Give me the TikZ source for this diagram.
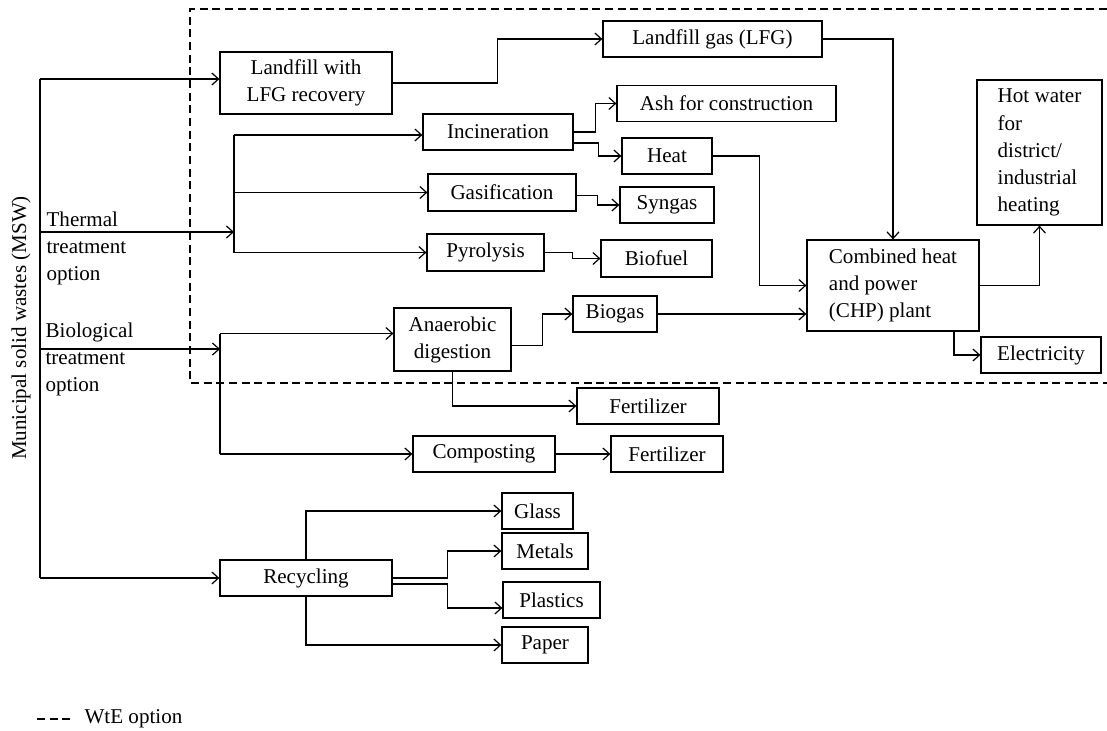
\documentclass[tikz,border=0pt]{standalone}
\usepackage{fontspec}
\setmainfont{Liberation Serif}
\usetikzlibrary{arrows.meta,calc,positioning}
\tikzset{
        block/.style = {draw, rectangle, inner sep=0pt, align=center,
            minimum height=27pt,
            font=\fontsize{15.8}{20.3}\selectfont},
        txt/.style = {inner sep=0pt, align=left,
            font=\fontsize{15.8}{20.3}\selectfont},
        arrow/.style = {draw, -{Straight Barb[length=5pt,width=9pt]}},
        wte/.style = {dash pattern=on 6pt off 3.5pt},
    }

\begin{document}
\begin{tikzpicture}[x=0.75pt,y=0.75pt,yscale=-1,xscale=1,line width=0.9pt]
\useasboundingbox (0,0) rectangle (1107,731);

% WtE region
\draw[wte, line width=0.8pt] (1107,9) -| (190,383) -- (1107,383);

% Boxes
\node[block, minimum width=129pt, minimum height=46.5pt] (landfill) at (306,83) {Landfill with\\LFG recovery};
\node[block, minimum width=164.25pt] (lfg) at (712.5,39) {Landfill gas (LFG)};
\node[block, minimum width=112.5pt] (incin) at (498,132) {Incineration};
\node[block, minimum width=164.25pt] (ash) at (726.5,103.5) {Ash for construction};
\node[block, minimum width=67.5pt] (heat) at (667,156) {Heat};
\node[block, minimum width=111pt, minimum height=27.75pt] (gasif) at (502,192.5) {Gasification};
\node[block, minimum width=70.5pt] (syngas) at (667,205) {Syngas};
\node[block, minimum width=87.75pt, minimum height=27.75pt] (pyro) at (485.5,252.5) {Pyrolysis};
\node[block, minimum width=83.25pt, minimum height=27.75pt] (biofuel) at (656.5,258.5) {Biofuel};
\node[block, minimum width=87.75pt, minimum height=47.25pt] (anaer) at (452.5,339.5) {Anaerobic\\digestion};
\node[block, minimum width=63pt] (biogas) at (615,314) {Biogas};
\node[block, minimum width=129pt, minimum height=68.25pt, align=left] (chp) at (893,285.5) {Combined heat\\and power\\(CHP) plant};
\node[block, minimum width=93.75pt, minimum height=108.75pt, align=left] (hotwater) at (1039.5,152.5) {Hot water\\for\\district/\\industrial\\heating};
\node[block, minimum width=90pt] (elec) at (1041,355) {Electricity};
\node[block, minimum width=106.5pt] (fert1) at (648,406) {Fertilizer};
\node[block, minimum width=106.5pt] (compost) at (484,454) {Composting};
\node[block, minimum width=84pt] (fert2) at (667,454) {Fertilizer};
\node[block, minimum width=129pt] (recyc) at (306,578) {Recycling};
\node[block, minimum width=53.25pt] (glass) at (537.5,511) {Glass};
\node[block, minimum width=64.5pt] (metals) at (545,551) {Metals};
\node[block, minimum width=72.75pt] (plastics) at (551.5,600) {Plastics};
\node[block, minimum width=64.5pt] (paper) at (545,645) {Paper};

% Labels
\node[txt, rotate=90] (msw) at (21,328) {Municipal solid wastes (MSW)};
\node[txt, anchor=north west] (thermtxt) at (46,211) {Thermal\\treatment\\option};
\node[txt, anchor=north west] (biotxt) at (45,322) {Biological\\treatment\\option};
\node[txt, anchor=west] (wtetxt) at (84,719) {WtE option};
\draw[wte, line width=0.8pt] ($(wtetxt.west)+(-47,0)$) -- ($(wtetxt.west)+(-12,0)$);

% Branch points
\coordinate (mswtop) at (40,79);
\coordinate (mswbot) at (40,578);
\coordinate (thermal) at (40,232);
\coordinate (tsplit) at (234,232);
\coordinate (bio) at (40,349);
\coordinate (bsplit) at (220,349);

% MSW routes
\draw (mswtop) -- (mswbot);
\draw[arrow] (mswtop) -- (mswtop -| landfill.west);
\draw[arrow] (mswbot) -- (recyc);
\draw[arrow] (thermal) -- (tsplit);
\draw[arrow] (bio) -- (bsplit);

% Thermal treatment
\draw ($(incin -| tsplit)+(0,3)$) -- (pyro -| tsplit);
\draw[arrow] ($(incin -| tsplit)+(0,3)$) -- ($(incin.west)+(0,3)$);
\draw[arrow] (gasif -| tsplit) -- (gasif);
\draw[arrow] (pyro -| tsplit) -- (pyro);
\draw[arrow] (incin.east) -- ++(22,0) |- (ash);
\draw[arrow] ($(incin.east)+(0,11)$) -- ++(25,0) |- (heat);
\draw[arrow] ($(gasif.east)+(0,3)$) -- ++(21,0) |- (syngas);
\draw[arrow] (pyro.east) -- ++(28,0) |- (biofuel);

% Landfill
\draw[arrow] (landfill.east) -- ++(105,0) |- (lfg);
\draw[arrow] (lfg.east) -| (chp.north);

% Biological treatment
\draw ($(anaer.west -| bsplit)+(0,-6)$) -- (compost -| bsplit);
\draw[arrow] ($(anaer.west -| bsplit)+(0,-6)$) -- ($(anaer.west)+(0,-6)$);
\draw[arrow] (compost -| bsplit) -- (compost);
\draw[arrow] ($(anaer.east)+(0,6)$) -- ++(31,0) |- (biogas);
\draw[arrow] (anaer.south) |- (fert1);
\draw[arrow] (compost) -- (fert2);

% CHP
\draw[arrow] (heat.east) -- ++(47,0) |- (chp);
\draw[arrow] (biogas) -- (biogas -| chp.west);
\draw[arrow] (chp.east) -| (hotwater.south);
\draw[arrow] ($(chp.south)+(61,0)$) |- (elec);

% Recycling
\draw[arrow] (recyc.north) |- (glass);
\draw[arrow] (recyc.south) |- (paper);
\draw[arrow] (recyc.east) -- ++(55,0) |- (metals);
\draw[arrow] ($(recyc.east)+(0,6)$) -- ++(55,0) |- ($(plastics.west)+(0,8)$);

\end{tikzpicture}
\end{document}
